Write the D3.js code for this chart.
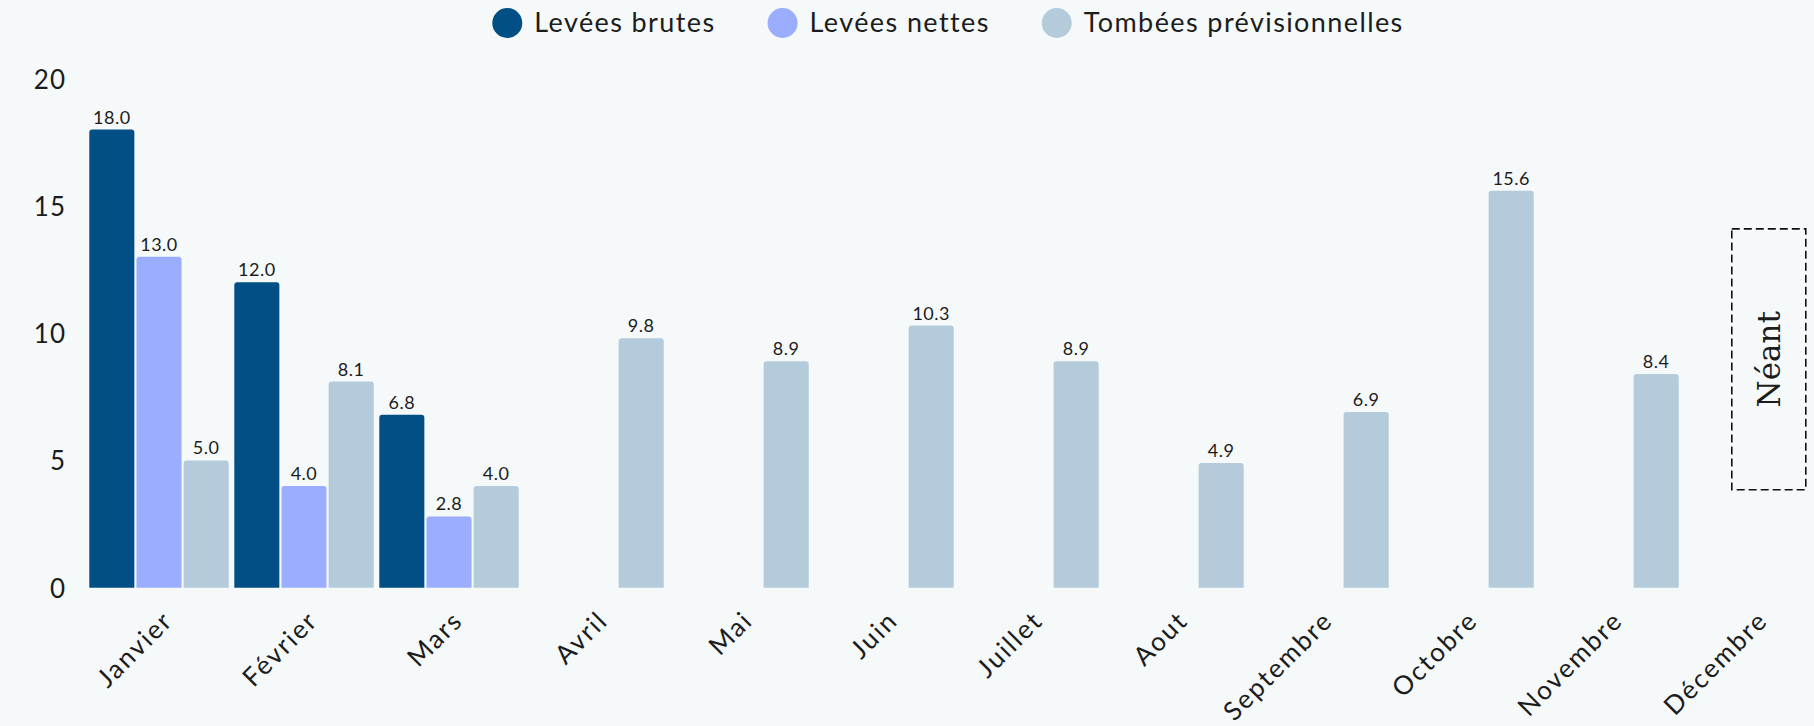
<!DOCTYPE html>
<html><head><meta charset="utf-8">
<script src="https://cdn.jsdelivr.net/npm/d3@7"></script>
<style>
html,body{margin:0;padding:0;background:#f5f9fa;}
svg{display:block;}
text{font-family:Lato, "Noto Sans", sans-serif;fill:#1c1c1c;}
</style></head>
<body>
<svg id="c" width="1814" height="726"></svg>
<script>
const months = ["Janvier","Février","Mars","Avril","Mai","Juin","Juillet","Aout","Septembre","Octobre","Novembre","Décembre"];
const seriesNames = ["Levées brutes","Levées nettes","Tombées prévisionnelles"];
const seriesColors = ["#024f86","#9badfe","#b4cbdb"];
const leveesBrutes = [18.0,12.0,6.8,null,null,null,null,null,null,null,null,null];
const leveesNettes = [13.0,4.0,2.8,null,null,null,null,null,null,null,null,null];
const tombeesPrev = [5.0,8.1,4.0,9.8,8.9,10.3,8.9,4.9,6.9,15.6,8.4,null];
const yTicks = [0,5,10,15,20];
const emptyMonthNote = {month:"Décembre", label:"Néant", top:14.1, bottom:3.85};

const allSeries = [leveesBrutes, leveesNettes, tombeesPrev];
const svg = d3.select("#c");

const x = d3.scaleBand().domain(months).range([86.5, 1826.5]).paddingInner(0.0386).paddingOuter(0.0193);
const xs = d3.scaleBand().domain(seriesNames).range([0, x.bandwidth()]).paddingInner(0.045);
const y = d3.scaleLinear().domain([0,20]).range([587.7, 78.7]);

// y axis labels
const yAxis = d3.axisLeft(y).tickValues(yTicks).tickSize(0).tickPadding(0).tickFormat(d3.format("d"));
const yg = svg.append("g").attr("transform","translate(66,0)").call(yAxis);
yg.select(".domain").remove();
yg.selectAll("text").style("font-size","26px").style("letter-spacing","1px").attr("dy","0.36em")
  .style("fill","#1c1c1c").style("font-family","Lato, sans-serif");

// bars
function topRounded(x0, y0, w, h, r){
  r = Math.min(r, h, w/2);
  return `M${x0},${y0+h}V${y0+r}Q${x0},${y0} ${x0+r},${y0}H${x0+w-r}Q${x0+w},${y0} ${x0+w},${y0+r}V${y0+h}Z`;
}
const data = [];
months.forEach((m,i)=>{
  seriesNames.forEach((s,j)=>{
    const v = allSeries[j][i];
    if(v!==null && v!==undefined) data.push({m, s, v, c: seriesColors[j]});
  });
});
const bars = svg.append("g");
bars.selectAll("path").data(data).join("path")
  .attr("d", d=> topRounded(x(d.m)+xs(d.s), y(d.v), xs.bandwidth(), y(0)-y(d.v), 3))
  .attr("fill", d=>d.c);
bars.selectAll("text").data(data).join("text")
  .attr("x", d=> x(d.m)+xs(d.s)+xs.bandwidth()/2)
  .attr("y", d=> y(d.v)-6)
  .attr("text-anchor","middle")
  .style("font-size","18px").style("letter-spacing","0.5px")
  .text(d=> d3.format(".1f")(d.v));

// x axis labels
const xAxis = d3.axisBottom(x).tickSize(0).tickPadding(0);
const xg = svg.append("g").attr("transform",`translate(0,${y(0)})`).call(xAxis);
xg.select(".domain").remove();
xg.selectAll(".tick text")
  .attr("text-anchor","end")
  .attr("dy","0.35em")
  .attr("y",0)
  .attr("transform","translate(9,28) rotate(-45)")
  .style("font-size","26px").style("letter-spacing","2px")
  .style("fill","#1c1c1c").style("font-family","Lato, sans-serif");

// legend
const lg = svg.append("g");
const items = lg.selectAll("g").data(seriesNames).join("g");
items.append("circle").attr("r",15).attr("cx",15).attr("cy",23).attr("fill",(d,i)=>seriesColors[i]);
items.append("text").attr("x",42).attr("y",23).attr("dy","0.35em")
  .style("font-size","27px").style("letter-spacing","1.4px").text(d=>d);
let cx = 0; const gap = 52;
items.each(function(){
  const w = 42 + d3.select(this).select("text").node().getComputedTextLength();
  d3.select(this).attr("transform",`translate(${cx},0)`);
  cx += w + gap;
});
const total = cx - gap;
lg.attr("transform",`translate(${948 - total/2},0)`);

// empty month annotation
const bx = x(emptyMonthNote.month) + 47.5, bw = 74;
const by = y(emptyMonthNote.top), by2 = y(emptyMonthNote.bottom);
svg.append("path")
  .attr("d", `M${bx},${by}H${bx+bw}V${by2}H${bx}Z`)
  .attr("fill","none").attr("stroke","#111").attr("stroke-width",1.6).attr("stroke-dasharray","8,4");
svg.append("text").attr("transform",`translate(${bx+bw/2},${(by+by2)/2}) rotate(-90)`)
  .attr("text-anchor","middle").attr("dy","0.35em")
  .style("font-family","'DejaVu Serif', serif").style("font-size","31px").text(emptyMonthNote.label);
</script>
</body></html>
